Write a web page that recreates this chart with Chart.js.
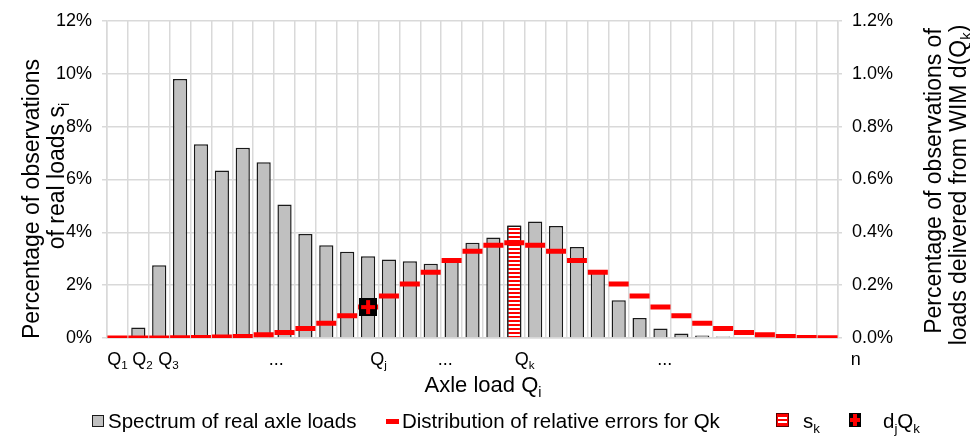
<!DOCTYPE html>
<html>
<head>
<meta charset="utf-8">
<script src="https://cdn.jsdelivr.net/npm/chart.js@4.4.0/dist/chart.umd.min.js"></script>
<style>
  html, body { margin: 0; padding: 0; background: #fff; }
  #wrap { width: 970px; height: 437px; }
</style>
</head>
<body>
<div id="wrap"><canvas id="axleChart" width="970" height="437"></canvas></div>
<script>
// axle load classes Q1..Qn
const categories = ["Q1", "Q2", "Q3", "Q4", "Q5", "Q6", "Q7", "Q8", "Q9", "Q10",
  "Q11", "Q12", "Q13", "Q14", "Q15", "Q16", "Q17", "Q18", "Q19", "Q20",
  "Q21", "Q22", "Q23", "Q24", "Q25", "Q26", "Q27", "Q28", "Q29", "Q30",
  "Q31", "Q32", "Q33", "Q34", "Q35"];

// spectrum of real axle loads s_i (%), left axis
const spectrum = [0, 0.4, 2.75, 9.8, 7.33, 6.34, 7.2, 6.65, 5.05, 3.93,
  3.51, 3.26, 3.09, 2.97, 2.9, 2.81, 3.0, 3.6, 3.8, 4.26,
  4.41, 4.24, 3.44, 2.5, 1.43, 0.76, 0.36, 0.17, 0.09, 0.06,
  0.03, 0, 0, 0, 0];

// highlighted class s_k
const skValues = [null, null, null, null, null, null, null, null, null, null,
  null, null, null, null, null, null, null, null, null, 4.26,
  null, null, null, null, null, null, null, null, null, null,
  null, null, null, null, null];

// distribution of relative errors for Qk (%), right axis
const relErrors = [0, 0, 0, 0.001, 0.002, 0.004, 0.006, 0.012, 0.021, 0.036,
  0.056, 0.084, 0.117, 0.159, 0.204, 0.249, 0.293, 0.328, 0.351, 0.36,
  0.351, 0.328, 0.293, 0.249, 0.204, 0.159, 0.117, 0.084, 0.056, 0.036,
  0.021, 0.012, 0.006, 0.002, 0.001];

// d_j(Q_k) marker, right axis
const djQk = [null, null, null, null, null, null, null, null, null, null,
  null, null, 0.117, null, null, null, null, null, null, null,
  null, null, null, null, null, null, null, null, null, null,
  null, null, null, null, null];

const leftTicks = [0, 2, 4, 6, 8, 10, 12];
const rightTicks = [0, 0.2, 0.4, 0.6, 0.8, 1.0, 1.2];

// x labels and where they sit (in category units)
const xLabels = ["Q_1", "Q_2", "Q_3", "...", "Q_j", "...", "Q_k", "...", "n"];
const xLabelAt = [0, 1.2, 2.45, 7.6, 12.5, 15.7, 19.5, 26.2, 35.35];

const legendLabels = ["Spectrum of real axle loads", "Distribution of relative errors for Qk", "s_k", "d_jQ_k"];

const FONT = '"Liberation Sans", Arial, sans-serif';
const GRID = "#d9d9d9";

function stripePattern() {
  const c = document.createElement("canvas");
  c.width = 4; c.height = 4;
  const g = c.getContext("2d");
  g.fillStyle = "#fff";
  g.fillRect(0, 0, 4, 4);
  g.fillStyle = "#ff0000";
  g.fillRect(0, 0, 4, 2);
  return g.createPattern(c, "repeat");
}

function crossIcon(w, h, arm, m) {
  const c = document.createElement("canvas");
  c.width = w; c.height = h;
  const g = c.getContext("2d");
  g.fillStyle = "#000";
  g.fillRect(0, 0, w, h);
  g.fillStyle = "#ff0000";
  g.fillRect(Math.round((w - arm) / 2), m, arm, h - 2 * m);
  g.fillRect(m, Math.round((h - arm) / 2), w - 2 * m, arm);
  return c;
}

const stripes = stripePattern();

// text with single-char subscripts written as _x
function parts(text) {
  const out = [];
  let i = 0;
  while (i < text.length) {
    if (text[i] === "_") {
      out.push({ t: text[i + 1], sub: true });
      i += 2;
    } else {
      let j = i;
      while (j < text.length && text[j] !== "_") j++;
      out.push({ t: text.slice(i, j), sub: false });
      i = j;
    }
  }
  return out;
}

function drawRich(ctx, text, x, y, size, align) {
  const ps = parts(text);
  let total = 0;
  ps.forEach(p => {
    ctx.font = (p.sub ? size * 0.65 : size) + "px " + FONT;
    p.w = ctx.measureText(p.t).width;
    total += p.w;
  });
  let cx = x;
  if (align === "center") cx = x - total / 2;
  if (align === "right") cx = x - total;
  ctx.textAlign = "left";
  ctx.textBaseline = "alphabetic";
  ps.forEach(p => {
    ctx.font = (p.sub ? size * 0.65 : size) + "px " + FONT;
    ctx.fillText(p.t, cx, p.sub ? y + size * 0.22 : y);
    cx += p.w;
  });
}

const textPlugin = {
  id: "texts",
  afterDraw(chart) {
    const ctx = chart.ctx;
    const xs = chart.scales.x;
    const step = xs.getPixelForValue(1) - xs.getPixelForValue(0);
    ctx.save();
    ctx.fillStyle = "#000";

    // x labels
    xLabels.forEach((lab, i) => {
      const px = xs.getPixelForValue(0) + xLabelAt[i] * step;
      drawRich(ctx, lab, px, 365, 18, "center");
    });

    // x title
    drawRich(ctx, "Axle load Q_i", 483, 392, 22, "center");

    // left title
    ctx.save();
    ctx.translate(39, 0);
    ctx.rotate(-Math.PI / 2);
    drawRich(ctx, "Percentage of observations", -199, 0, 23, "center");
    drawRich(ctx, "of real loads s_i", -176, 25, 23, "center");
    ctx.restore();

    // right title
    ctx.save();
    ctx.translate(941, 0);
    ctx.rotate(-Math.PI / 2);
    drawRich(ctx, "Percentage of observations of", -181, 0, 23, "center");
    drawRich(ctx, "loads delivered from WIM d(Q_k)", -185, 25, 23, "center");
    ctx.restore();

    // legend
    const ly = 428;
    ctx.fillStyle = "#c0c0c0";
    ctx.fillRect(92, 415, 12, 12);
    ctx.strokeStyle = "#1a1a1a";
    ctx.lineWidth = 1;
    ctx.strokeRect(92.5, 415.5, 11, 11);
    ctx.fillStyle = "#000";
    drawRich(ctx, legendLabels[0], 108, ly, 20.5, "left");

    ctx.fillStyle = "#ff0000";
    ctx.fillRect(386, 419, 13, 5);
    ctx.fillStyle = "#000";
    drawRich(ctx, legendLabels[1], 402, ly, 20.5, "left");

    ctx.fillStyle = "#ff0000";
    ctx.fillRect(776, 413, 13, 14);
    ctx.fillStyle = "#fff";
    ctx.fillRect(778, 417, 9, 2);
    ctx.fillRect(778, 421, 9, 2);
    ctx.strokeStyle = "#5a0000";
    ctx.strokeRect(776.5, 413.5, 12, 13);
    ctx.fillStyle = "#000";
    drawRich(ctx, legendLabels[2], 803, ly, 20.5, "left");

    ctx.drawImage(crossIcon(12, 14, 4, 1), 849, 413);
    ctx.fillStyle = "#000";
    drawRich(ctx, legendLabels[3], 883, ly, 20.5, "left");

    ctx.restore();
  }
};

Chart.defaults.font.family = FONT;
Chart.defaults.color = "#000";

new Chart(document.getElementById("axleChart"), {
  type: "bar",
  data: {
    labels: categories,
    datasets: [
      {
        type: "line",
        label: "d_jQ_k",
        data: djQk,
        yAxisID: "y2",
        showLine: false,
        pointStyle: crossIcon(18, 18, 4, 2),
        order: 1
      },
      {
        type: "line",
        label: "Distribution of relative errors for Qk",
        data: relErrors,
        yAxisID: "y2",
        showLine: false,
        pointStyle: "line",
        pointRadius: 10,
        pointHoverRadius: 10,
        pointBorderWidth: 5,
        pointBorderColor: "#ff0000",
        order: 2
      },
      {
        label: "s_k",
        data: skValues,
        yAxisID: "y",
        backgroundColor: stripes,
        borderColor: "#1a1a1a",
        borderWidth: 1.5,
        barPercentage: 0.68,
        categoryPercentage: 1,
        grouped: false,
        order: 3
      },
      {
        label: "Spectrum of real axle loads",
        data: spectrum,
        yAxisID: "y",
        backgroundColor: "#c0c0c0",
        borderColor: "#1a1a1a",
        borderWidth: 1.5,
        barPercentage: 0.68,
        categoryPercentage: 1,
        grouped: false,
        order: 4
      }
    ]
  },
  options: {
    responsive: false,
    animation: false,
    layout: { padding: { left: 47, right: 72, top: 18, bottom: 99 } },
    plugins: {
      legend: { display: false },
      tooltip: { enabled: false }
    },
    scales: {
      x: {
        offset: true,
        grid: { offset: true, color: GRID, lineWidth: 1.5, drawTicks: false },
        border: { color: GRID, width: 1.5 },
        ticks: { display: false },
        afterFit(s) { s.height = 0; }
      },
      y: {
        position: "left",
        min: 0,
        max: 12,
        afterBuildTicks(s) { s.ticks = leftTicks.map(v => ({ value: v })); },
        ticks: {
          font: { size: 18 },
          padding: 10,
          callback: v => v + "%"
        },
        grid: { color: GRID, lineWidth: 1.5, tickLength: 5 },
        border: { color: GRID, width: 1.5 },
        afterFit(s) { s.width = 60; }
      },
      y2: {
        position: "right",
        min: 0,
        max: 1.2,
        afterBuildTicks(s) { s.ticks = rightTicks.map(v => ({ value: v })); },
        ticks: {
          font: { size: 18 },
          padding: 10,
          callback: v => v.toFixed(1) + "%"
        },
        grid: { drawOnChartArea: false, color: GRID, lineWidth: 1.5, tickLength: 4 },
        border: { color: GRID, width: 1.5 },
        afterFit(s) { s.width = 60; }
      }
    }
  },
  plugins: [textPlugin]
});
</script>
</body>
</html>
